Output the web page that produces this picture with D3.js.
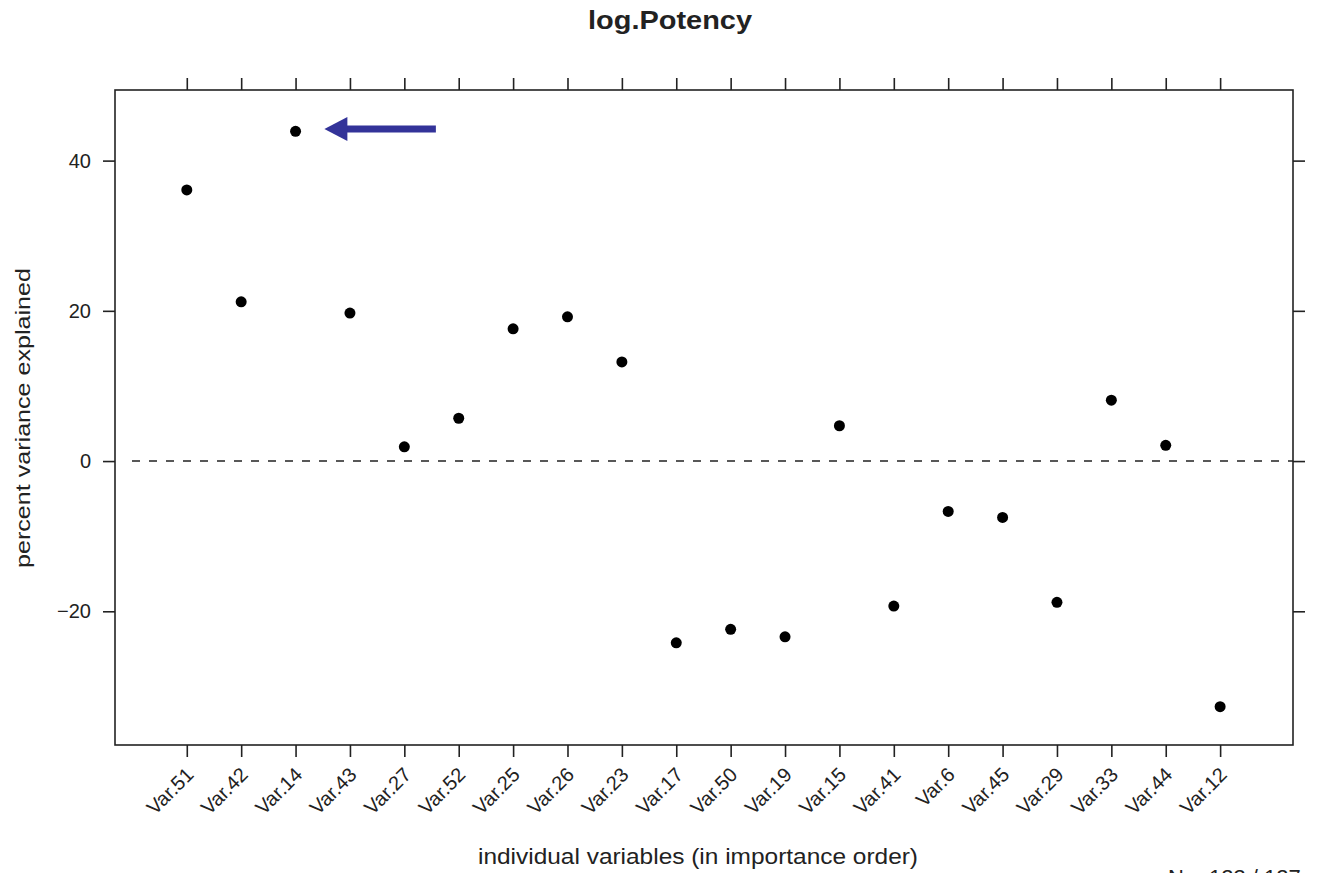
<!DOCTYPE html>
<head>
    <meta charset="utf-8">
    <title>log.Potency</title>
    <style>
        body { margin: 0; background: #fff; }
        text { font-family: "Liberation Sans", Arial, sans-serif; fill: #222; }
    </style>
</head>
<body>

<svg width="1322" height="873"></svg>

<script src="https://d3js.org/d3.v7.min.js"></script>

<script>

    // variables, in importance order
    var variables = ["Var.51", "Var.42", "Var.14", "Var.43", "Var.27", "Var.52", "Var.25",
        "Var.26", "Var.23", "Var.17", "Var.50", "Var.19", "Var.15", "Var.41", "Var.6",
        "Var.45", "Var.29", "Var.33", "Var.44", "Var.12"];

    // percent variance explained
    var pctVar = [36.1, 21.2, 43.9, 19.7, 1.9, 5.7, 17.6, 19.2, 13.2, -24.2, -22.4,
        -23.4, 4.7, -19.3, -6.7, -7.5, -18.8, 8.1, 2.1, -32.7];

    var yTicks = [-20, 0, 20, 40];

    // arrow pointing at Var.14 (x in category units, y in data units)
    var arrowFrom = [5.58, 44.2],
        arrowTo = [3.53, 44.2];

    var svg = d3.select("svg");

    var pLeft = 115, pRight = 1293, pTop = 90, pBottom = 745;

    var x = d3.scaleLinear().domain([-0.32, 21.34]).range([pLeft, pRight]);
    var y = d3.scaleLinear().domain([-37.8, 49.4]).range([pBottom, pTop]);

    var pos = function(i) { return i + 1; };

    // title
    svg.append("text")
        .attr("x", 670).attr("y", 29)
        .attr("text-anchor", "middle")
        .attr("textLength", 164).attr("lengthAdjust", "spacingAndGlyphs")
        .style("font-size", "26px").style("font-weight", "bold")
        .text("log.Potency");

    // axes on all four sides, ticks outside
    svg.append("g")
        .attr("transform", "translate(0," + pBottom + ")")
        .call(d3.axisBottom(x).tickValues(d3.range(1, 21)).tickSize(12).tickFormat(""));
    svg.append("g")
        .attr("transform", "translate(0," + pTop + ")")
        .call(d3.axisTop(x).tickValues(d3.range(1, 21)).tickSize(12).tickFormat(""));
    svg.append("g")
        .attr("transform", "translate(" + pLeft + ",0)")
        .call(d3.axisLeft(y).tickValues(yTicks).tickSize(12).tickPadding(12))
        .selectAll("text").style("font-size", "20px");
    svg.append("g")
        .attr("transform", "translate(" + pRight + ",0)")
        .call(d3.axisRight(y).tickValues(yTicks).tickSize(12).tickFormat(""));

    svg.selectAll(".domain").remove();
    svg.selectAll(".tick line").attr("stroke", "#222").attr("stroke-width", 1.6);
    svg.selectAll(".tick text").attr("fill", "#333").style("font-family", "Liberation Sans, Arial, sans-serif");

    svg.append("rect")
        .attr("x", pLeft).attr("y", pTop)
        .attr("width", pRight - pLeft).attr("height", pBottom - pTop)
        .attr("fill", "none").attr("stroke", "#222").attr("stroke-width", 1.6);

    // rotated variable names
    svg.append("g").selectAll("text")
        .data(variables)
        .enter().append("text")
            .attr("text-anchor", "end")
            .attr("fill", "#333")
            .attr("transform", function(d, i) { return "translate(" + (x(pos(i)) + 8) + ",776) rotate(-45)"; })
            .style("font-size", "20px")
            .text(function(d) { return d; });

    // zero reference line
    svg.append("line")
        .attr("x1", pLeft + 17).attr("x2", pRight)
        .attr("y1", y(0)).attr("y2", y(0))
        .attr("stroke", "#222").attr("stroke-width", 1.6)
        .attr("stroke-dasharray", "8,9");

    // points
    svg.append("g").selectAll("circle")
        .data(pctVar)
        .enter().append("circle")
            .attr("cx", function(d, i) { return x(pos(i)); })
            .attr("cy", function(d) { return y(d); })
            .attr("r", 5.5)
            .attr("fill", "#000");

    // arrow
    var ax1 = x(arrowFrom[0]), ax2 = x(arrowTo[0]), ay = y(arrowTo[1]);
    svg.append("line")
        .attr("x1", ax1).attr("x2", ax2 + 20)
        .attr("y1", ay).attr("y2", ay)
        .attr("stroke", "#333399").attr("stroke-width", 7);
    svg.append("path")
        .attr("d", "M" + ax2 + "," + ay + "L" + (ax2 + 23) + "," + (ay - 12) + "L" + (ax2 + 23) + "," + (ay + 12) + "Z")
        .attr("fill", "#333399");

    // axis titles
    svg.append("text")
        .attr("transform", "translate(30,418) rotate(-90)")
        .attr("text-anchor", "middle")
        .attr("textLength", 300).attr("lengthAdjust", "spacingAndGlyphs")
        .style("font-size", "21px")
        .text("percent variance explained");

    svg.append("text")
        .attr("x", 698).attr("y", 864)
        .attr("text-anchor", "middle")
        .attr("textLength", 440).attr("lengthAdjust", "spacingAndGlyphs")
        .style("font-size", "22px")
        .text("individual variables (in importance order)");

    svg.append("text")
        .attr("x", 1168).attr("y", 885)
        .style("font-size", "22px")
        .text("N = 123 / 127");

</script>
</body>
